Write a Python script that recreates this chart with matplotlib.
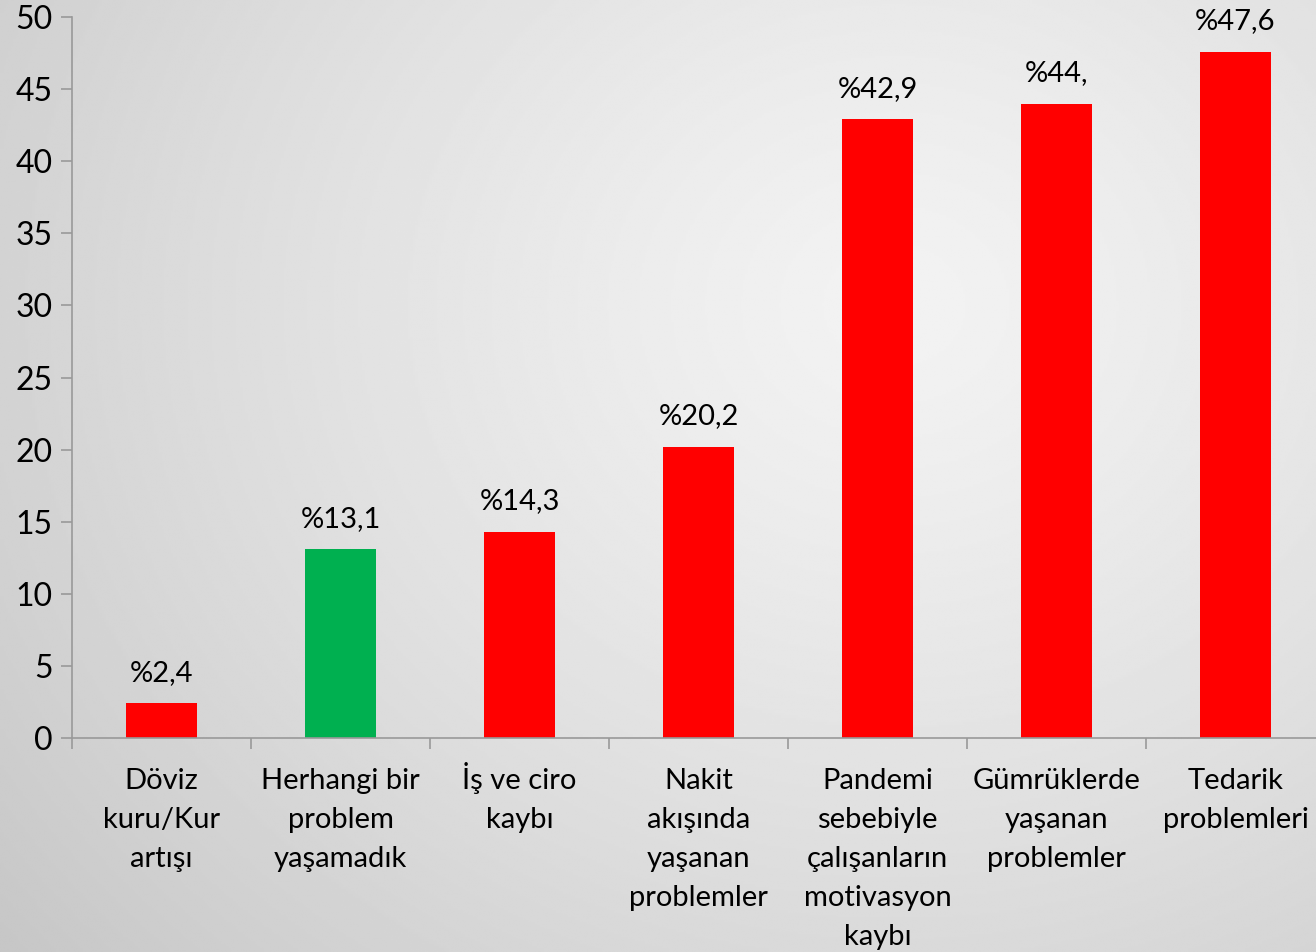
import numpy as np
import matplotlib
matplotlib.use("Agg")
import matplotlib.pyplot as plt

plt.rcParams['font.family'] = ['Lato', 'DejaVu Sans']

categories = ['Döviz\nkuru/Kur\nartışı', 'Herhangi bir\nproblem\nyaşamadık',
              'İş ve ciro\nkaybı', 'Nakit\nakışında\nyaşanan\nproblemler',
              'Pandemi\nsebebiyle\nçalışanların\nmotivasyon\nkaybı',
              'Gümrüklerde\nyaşanan\nproblemler', 'Tedarik\nproblemleri']
values = [2.4, 13.1, 14.3, 20.2, 42.9, 44.0, 47.6]
value_labels = ['%2,4', '%13,1', '%14,3', '%20,2', '%42,9', '%44,', '%47,6']
colors = ['#ff0000', '#00b050', '#ff0000', '#ff0000', '#ff0000', '#ff0000', '#ff0000']

fig = plt.figure(figsize=(13.16, 9.52), dpi=100)

# radial grey background
bg = fig.add_axes([0, 0, 1, 1], zorder=-10)
yy, xx = np.mgrid[0:1:400j, 0:1:550j]
r = np.sqrt(((xx - 0.68) * 1.2) ** 2 + (yy - 0.68) ** 2)
shade = 0.95 - 0.17 * np.clip(r / 1.05, 0, 1) ** 1.3
bg.imshow(shade, cmap='gray', vmin=0, vmax=1, origin='lower', aspect='auto',
          extent=[0, 1, 0, 1], interpolation='bilinear')
bg.axis('off')

ax = fig.add_axes([72 / 1316, 214 / 952, 1253 / 1316, 721 / 952])
ax.patch.set_alpha(0)

x = np.arange(len(values))
ax.bar(x, values, width=0.4, color=colors)
for xi, v, lab in zip(x, values, value_labels):
    ax.text(xi, v + 1.2, lab, ha='center', va='bottom', fontsize=21)

ax.set_xlim(-0.5, len(values) - 0.5)
ax.set_ylim(0, 50)
ax.set_yticks(np.arange(0, 51, 5))
ax.tick_params(axis='y', labelsize=23, length=8, width=1.2, color='#999999', pad=6)

# category labels, line by line so every first line shares a baseline
ax.set_xticks(np.arange(-0.5, len(values), 1))
ax.set_xticklabels([])
ax.tick_params(axis='x', length=8, width=1.2, color='#999999')
for xi, cat in zip(x, categories):
    for i, line in enumerate(cat.split('\n')):
        ax.annotate(line, xy=(xi, 0), xycoords=('data', 'axes fraction'),
                    xytext=(0, -37 - i * 28.1), textcoords='offset points',
                    ha='center', va='baseline', fontsize=21)

for s in ['top', 'right']:
    ax.spines[s].set_visible(False)
for s in ['left', 'bottom']:
    ax.spines[s].set_color('#999999')
    ax.spines[s].set_linewidth(1.2)

fig.savefig('out.png', dpi=100)
